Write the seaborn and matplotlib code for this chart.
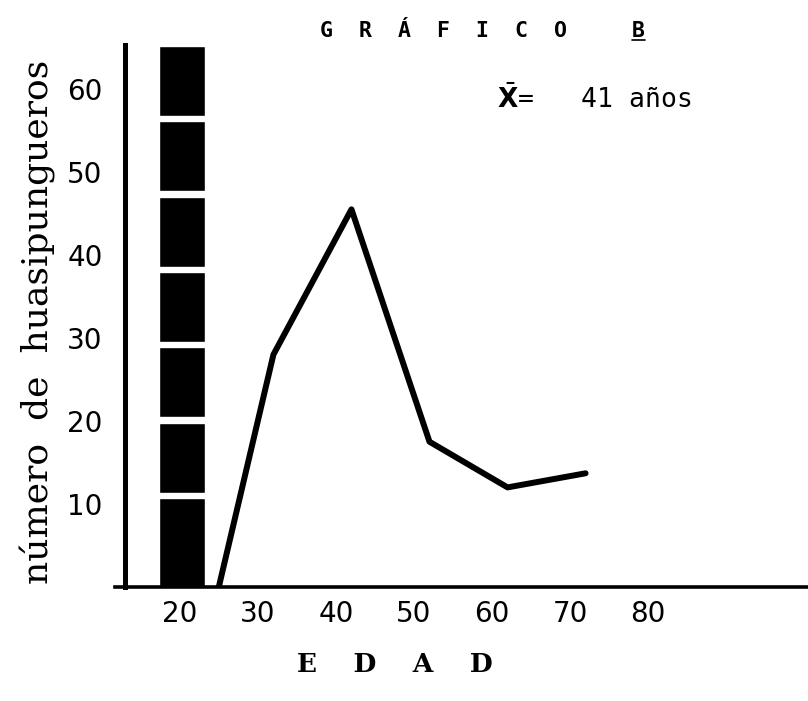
import numpy as np
import matplotlib
matplotlib.use("Agg")
import matplotlib.pyplot as plt
from matplotlib.lines import Line2D
from matplotlib.transforms import IdentityTransform
import seaborn as sns

# data
edad = [25, 32, 42, 52, 62, 72]
huasipungueros = [0, 28, 45.5, 17.5, 12, 13.7]
barra_edad = 20
barra_valor = 65.2          # column runs off the top of the chart
x_ticks = [20, 30, 40, 50, 60, 70, 80]
y_ticks = [10, 20, 30, 40, 50, 60]

sns.set_style("white")
plt.rcParams["font.family"] = ["DejaVu Sans"]
plt.rcParams.update({"text.color": "black", "axes.labelcolor": "black",
                     "xtick.color": "black", "ytick.color": "black"})

fig = plt.figure(figsize=(8.08, 7.01), dpi=100)
ax = fig.add_axes([115 / 808, 114 / 701, 693 / 808, 542 / 701])

# black column broken into blocks
ax.bar(barra_edad + 0.3, barra_valor, width=5.8, color="black", zorder=2)
gap_bottoms = 10.7 + np.arange(6) * 9.08
ax.bar([barra_edad + 0.3] * len(gap_bottoms), 0.65, bottom=gap_bottoms, width=6.2,
       color="white", zorder=3)

sns.lineplot(x=edad, y=huasipungueros, color="black", lw=4.3, ax=ax, zorder=4)

ax.set_xlim(11.7, 100.5)
ax.set_ylim(0, 65.3)
ax.set_xticks(x_ticks)
ax.set_yticks(y_ticks)
ax.tick_params(length=0, labelsize=20)
ax.tick_params(axis="x", pad=9)
ax.tick_params(axis="y", pad=16)

for s in ["top", "right"]:
    ax.spines[s].set_visible(False)
ax.spines["left"].set_position(("data", 12.95))
ax.spines["left"].set_linewidth(3.6)
ax.spines["bottom"].set_linewidth(2.6)
ax.spines["left"].set_color("black")
ax.spines["bottom"].set_color("black")

ax.set_ylabel("número  de  huasipungueros", family="DejaVu Serif", fontsize=26)
ax.yaxis.set_label_coords(-0.085, 0.49)
ax.set_xlabel("E    D    A    D", family="DejaVu Serif", fontsize=19,
              fontweight="bold")
ax.xaxis.set_label_coords(0.404, -0.12)

titulo = "G  R  Á  F  I  C  O     B"
t = fig.text(320 / 808, 1 - 31 / 701, titulo, family="DejaVu Sans Mono",
             fontsize=15.5, fontweight="bold", ha="left", va="center")
fig.text(497 / 808, 1 - 99 / 701, "$\\bar{\\mathbf{X}}$=   41 años",
         family="DejaVu Sans Mono", fontsize=19, ha="left", va="center")

# underline the final "B" of the title
fig.canvas.draw()
bb = t.get_window_extent()
cw = bb.width / len(titulo)
fig.add_artist(Line2D([bb.x1 - cw, bb.x1], [bb.y0 + 1, bb.y0 + 1],
                      transform=IdentityTransform(), color="black", lw=1.2))

plt.savefig("out.png", dpi=100)
